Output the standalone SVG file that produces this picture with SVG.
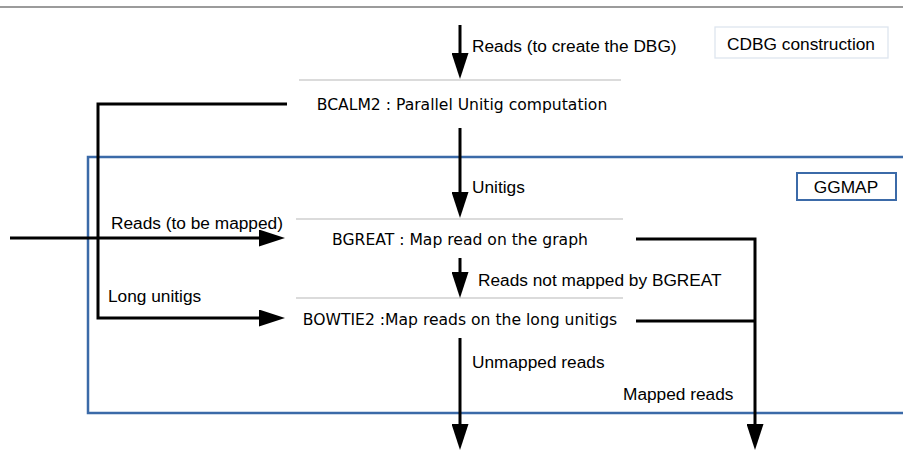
<svg xmlns="http://www.w3.org/2000/svg" width="903" height="450" viewBox="0 0 903 450">
<defs>
<marker id="ah" markerWidth="26" markerHeight="17" refX="0" refY="8.5" orient="auto" markerUnits="userSpaceOnUse" viewBox="0 0 26 17">
<path d="M0,0 L26,8.5 L0,17 Z" fill="#000"/>
</marker>
</defs>
<style>
.lbl{font-family:"Liberation Sans",Arial,sans-serif;font-size:17.3px;fill:#000}
.node{font-family:"DejaVu Sans",Verdana,sans-serif;font-size:15.6px;fill:#000;text-anchor:middle}
.sep{stroke:#cfcfcf;stroke-width:1.3}
.conn{stroke:#000;stroke-width:3;fill:none}
</style>
<rect width="903" height="450" fill="#fff"/>
<line x1="0" y1="7" x2="903" y2="7" stroke="#7a7a7a" stroke-width="1.5"/>
<rect x="88" y="157" width="830" height="256" fill="none" stroke="#3b6aa8" stroke-width="2.5"/>
<g id="cdbg">
<rect x="715" y="27" width="173" height="31" fill="#fff" stroke="#dde5ef" stroke-width="1.3"/>
<text class="lbl" x="801" y="50" text-anchor="middle">CDBG construction</text>
</g>
<g id="ggmap">
<rect x="797" y="173" width="99" height="27" fill="#fff" stroke="#3b6aa8" stroke-width="2"/>
<text class="lbl" x="846" y="193" text-anchor="middle">GGMAP</text>
</g>
<g id="bcalm2">
<line class="sep" x1="299" y1="80" x2="621" y2="80"/>
<text class="node" x="462" y="110">BCALM2 : Parallel Unitig computation</text>
</g>
<g id="bgreat">
<line class="sep" x1="296" y1="219" x2="623" y2="219"/>
<text class="node" x="460" y="245">BGREAT : Map read on the graph</text>
</g>
<g id="bowtie2">
<line class="sep" x1="296" y1="298" x2="623" y2="298"/>
<text class="node" x="460" y="325">BOWTIE2 :Map reads on the long unitigs</text>
</g>
<g id="connectors">
<line class="conn" x1="460" y1="25" x2="460" y2="53" marker-end="url(#ah)"/>
<line class="conn" x1="460" y1="128" x2="460" y2="192" marker-end="url(#ah)"/>
<line class="conn" x1="460" y1="258" x2="460" y2="272" marker-end="url(#ah)"/>
<line class="conn" x1="460" y1="338" x2="460" y2="424" marker-end="url(#ah)"/>
<line class="conn" x1="10" y1="238" x2="259" y2="238" marker-end="url(#ah)"/>
<polyline class="conn" points="287,104 98,104 98,318 259,318" marker-end="url(#ah)"/>
<polyline class="conn" points="636,239 755,239 755,424" marker-end="url(#ah)"/>
<line class="conn" x1="636" y1="321" x2="755" y2="321"/>
<text class="lbl" x="472" y="52">Reads (to create the DBG)</text>
<text class="lbl" x="472" y="193">Unitigs</text>
<text class="lbl" x="111" y="229">Reads (to be mapped)</text>
<text class="lbl" x="478" y="286">Reads not mapped by BGREAT</text>
<text class="lbl" x="108" y="302">Long unitigs</text>
<text class="lbl" x="472" y="368">Unmapped reads</text>
<text class="lbl" x="623" y="400">Mapped reads</text>
</g>
</svg>
